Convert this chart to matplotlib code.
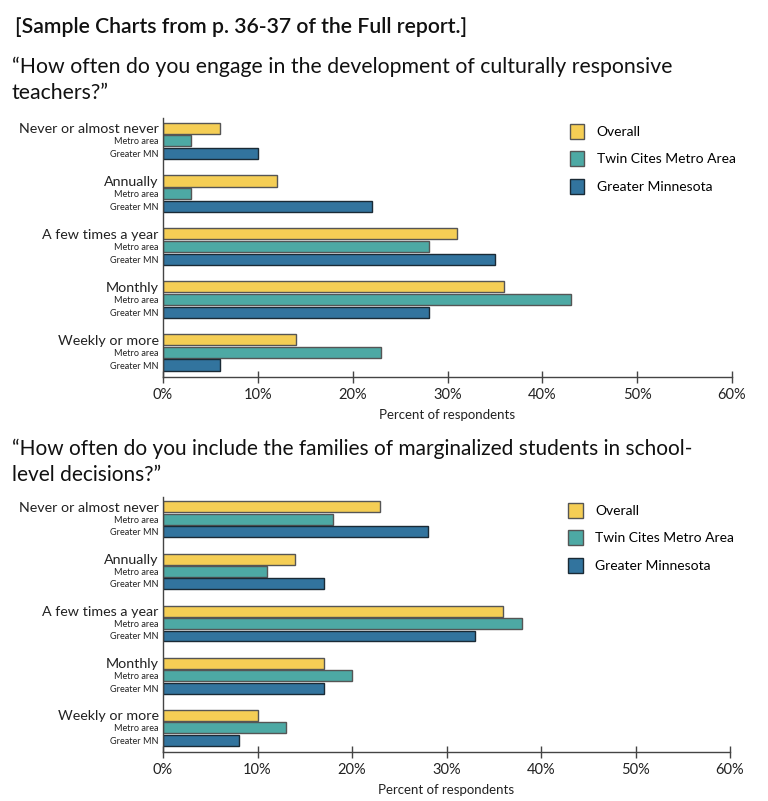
import matplotlib
matplotlib.use("Agg")
import matplotlib.pyplot as plt
import numpy as np
from matplotlib.patches import Patch

plt.rcParams['font.family'] = ['Lato', 'DejaVu Sans']

categories = ["Never or almost never", "Annually", "A few times a year", "Monthly", "Weekly or more"]
sub_labels = ["Metro area", "Greater MN"]
series_names = ["Overall", "Twin Cites Metro Area", "Greater Minnesota"]
colors = ["#F5CE55", "#4DA9A4", "#32749E"]
edges = ["#555555", "#555555", "#1a2a35"]

q1_overall = [6, 12, 31, 36, 14]
q1_metro = [3, 3, 28, 43, 23]
q1_greater = [10, 22, 35, 28, 6]

q2_overall = [23, 14, 36, 17, 10]
q2_metro = [18, 11, 38, 20, 13]
q2_greater = [28, 17, 33, 17, 8]

xticks = [0, 10, 20, 30, 40, 50, 60]
xtick_labels = ["0%", "10%", "20%", "30%", "40%", "50%", "60%"]
xlabel = "Percent of respondents"

header = "[Sample Charts from p. 36-37 of the Full report.]"
title1 = ["\u201cHow often do you engage in the development of culturally responsive", "teachers?\u201d"]
title2 = ["\u201cHow often do you include the families of marginalized students in school-", "level decisions?\u201d"]

W, H = 768, 801
fig = plt.figure(figsize=(W / 100, H / 100), dpi=100)


def px_axes(left, top, right, bottom):
    return fig.add_axes([left / W, 1 - bottom / H, (right - left) / W, (bottom - top) / H])


def draw(ax, data):
    group_gap = 4.2
    ticks, labels, sizes = [], [], []
    for i, cat in enumerate(categories):
        base = i * group_gap
        for j in range(3):
            y = base + j
            ax.barh(y, data[j][i], height=0.88, color=colors[j], edgecolor=edges[j], linewidth=1.0)
            ticks.append(y)
            if j == 0:
                labels.append(cat)
                sizes.append(10.3)
            else:
                labels.append(sub_labels[j - 1])
                sizes.append(6.6)
    ax.set_yticks(ticks)
    ax.set_yticklabels(labels)
    for lab, s in zip(ax.get_yticklabels(), sizes):
        lab.set_fontsize(s)
        lab.set_color("#222222")
    ax.tick_params(axis='y', length=0, pad=3)
    ax.set_ylim(4 * group_gap + 2 + 0.95, -0.8)
    ax.set_xlim(0, 60)
    ax.set_xticks(xticks)
    ax.set_xticklabels(xtick_labels, fontsize=10.5, color="#222222")
    ax.tick_params(axis='x', direction='inout', length=8, width=1, color="#444444", pad=4)
    ax.set_xlabel(xlabel, fontsize=9.5, labelpad=5, color="#222222")
    for s in ["top", "right"]:
        ax.spines[s].set_visible(False)
    for s in ["left", "bottom"]:
        ax.spines[s].set_color("#444444")
        ax.spines[s].set_linewidth(1)
    handles = [Patch(facecolor=colors[k], edgecolor=edges[k], linewidth=1.0, label=series_names[k]) for k in range(3)]
    ax.legend(handles=handles, loc="upper left", bbox_to_anchor=(0.705, 1.0), frameon=False,
              fontsize=10, handlelength=1.05, handleheight=1.3, labelspacing=0.9, handletextpad=0.9,
              borderaxespad=0)


ax1 = px_axes(163, 118, 732, 377)
draw(ax1, [q1_overall, q1_metro, q1_greater])
ax2 = px_axes(163, 497, 730, 752)
draw(ax2, [q2_overall, q2_metro, q2_greater])

fig.text(15 / W, 1 - 33 / H, header, fontsize=15.3, fontweight='semibold', va='baseline', ha='left', color="#111111")
fig.text(12 / W, 1 - 73 / H, title1[0], fontsize=15.3, va='baseline', ha='left', color="#111111")
fig.text(12 / W, 1 - 99 / H, title1[1], fontsize=15.3, va='baseline', ha='left', color="#111111")
fig.text(12 / W, 1 - 455 / H, title2[0], fontsize=15.0, va='baseline', ha='left', color="#111111")
fig.text(12 / W, 1 - 481 / H, title2[1], fontsize=15.0, va='baseline', ha='left', color="#111111")

fig.savefig("out.png", dpi=100)
